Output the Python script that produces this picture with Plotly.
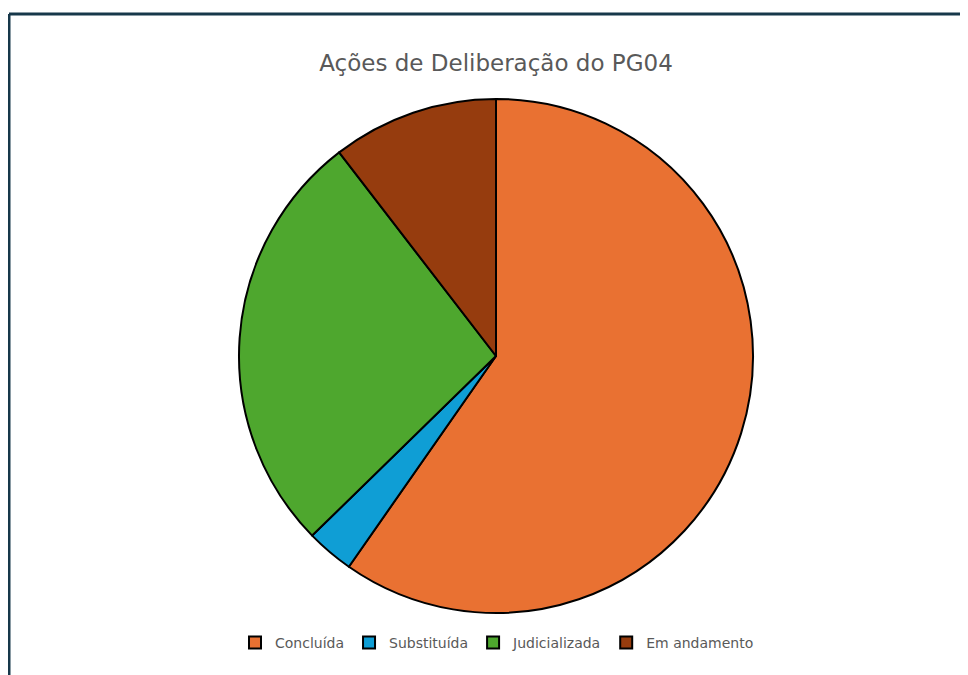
import plotly.graph_objects as go

categories = ["Concluída", "Substituída", "Judicializada", "Em andamento"]
values = [40, 2, 18, 7]
colors = ["#E97132", "#0F9ED5", "#4EA72E", "#963C0E"]

W, H = 968, 675
OFF = 8  # page body offset
cx, cy, r = 496 - OFF, 356 - OFF, 257

fig = go.Figure(go.Pie(
    labels=categories,
    values=values,
    sort=False,
    direction="clockwise",
    rotation=0,
    marker=dict(colors=colors, line=dict(color="#000000", width=2)),
    textinfo="none",
    hoverinfo="label+value+percent",
    domain=dict(x=[(cx - r) / W, (cx + r) / W], y=[(H - cy - r) / H, (H - cy + r) / H]),
))

fig.update_layout(
    width=W, height=H,
    margin=dict(l=0, r=0, t=0, b=0),
    paper_bgcolor="white",
    plot_bgcolor="white",
    title=dict(text="Ações de Deliberação do PG04", x=(496 - OFF) / W, xanchor="center",
               y=1 - (63 - OFF) / H, yanchor="middle",
               font=dict(family="DejaVu Sans, sans-serif", size=23, color="#595959")),
    showlegend=True,
    legend=dict(orientation="h", x=(497 - OFF) / W, xanchor="center", y=1 - (643 - OFF) / H, yanchor="middle",
                font=dict(family="DejaVu Sans, sans-serif", size=14, color="#595959"),
                traceorder="normal"),
    shapes=[
        dict(type="line", xref="paper", yref="paper", x0=(9 - OFF) / W, y0=0, x1=(9 - OFF) / W, y1=1 - (14 - OFF) / H,
             line=dict(color="#17384A", width=3)),
        dict(type="line", xref="paper", yref="paper", x0=(9 - OFF) / W, y0=1 - (14 - OFF) / H, x1=1.01, y1=1 - (14 - OFF) / H,
             line=dict(color="#17384A", width=3)),
    ],
)

fig.write_html("out.html")
